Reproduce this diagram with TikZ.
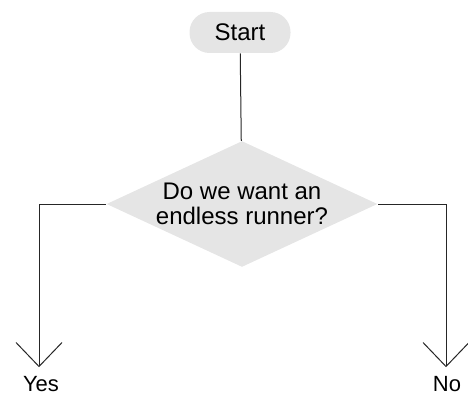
\documentclass[tikz,border=0pt]{standalone}
\usepackage{fontspec}
\setmainfont{Liberation Sans}
\usetikzlibrary{shapes.geometric,arrows.meta}

\begin{document}
\begin{tikzpicture}
  [x=1pt,y=-1pt,line width=1pt,draw=black!85,
   every node/.style={font=\fontsize{24}{25}\selectfont},
   box/.style={fill=black!10,inner sep=0pt},
   flow/.style={draw=black!85,-{Straight Barb[length=24pt,width=46pt,line join=round]}}]
    \useasboundingbox (0,0) rectangle (468,396);

    \node (start) [box,rounded corners=20pt,minimum width=101pt,minimum height=41pt] at (240,32.5) {Start};
    \node (q) [box,diamond,aspect=2.15,minimum width=271pt,minimum height=126pt,align=center] at (242,204) {Do we want an\\endless runner?};

    \coordinate (yes) at (39,367);
    \coordinate (no)  at (446,367);

    \draw[draw=black!85] (start) -- (q);
    \draw[flow] (q.west) -| (yes);
    \draw[flow] (q.east) -| (no);

    \node (yeslabel)[font=\fontsize{22}{24}\selectfont,inner sep=0pt] at (41,384) {Yes};
    \node (nolabel) [font=\fontsize{22}{24}\selectfont,inner sep=0pt] at (447,384) {No};
  \end{tikzpicture}
\end{document}
